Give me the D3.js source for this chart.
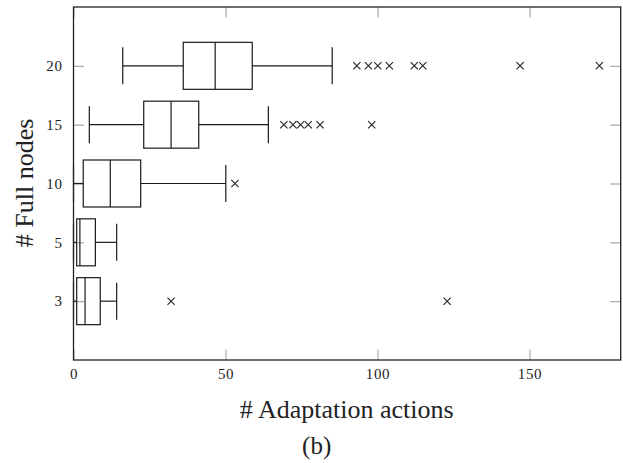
<!DOCTYPE html>
<html>
<head>
<meta charset="utf-8">
<script src="https://cdn.jsdelivr.net/npm/d3@7"></script>
<style>
  body { margin: 0; background: #fff; }
  svg text { font-family: "Liberation Serif", "DejaVu Serif", serif; fill: #222; }
</style>
</head>
<body>
<div id="container"></div>
<script>
// box plot values, one entry per category (bottom to top)
const categories = ["3", "5", "10", "15", "20"];
const whiskerLow = [0, 0, 0, 5.2, 16.2];
const q1 = [1.05, 1.05, 3.2, 23.1, 36.1];
const median = [3.8, 2.1, 12.1, 32.1, 46.6];
const q3 = [8.8, 7.2, 22.1, 41.2, 58.8];
const whiskerHigh = [14.2, 14.2, 50.1, 64.1, 85.1];
const outliers = [
    [32.1, 122.9],
    [],
    [53.1],
    [69.2, 72.2, 74.7, 77.2, 81.1, 98.1],
    [93.2, 97.0, 100.1, 103.9, 112.1, 114.9, 146.9, 173.0]
];
const xTicks = [0, 50, 100, 150];

// set dimensions
const W = 623, H = 463;
const margin = {top: 7, right: 2.3, bottom: 103, left: 73.5};
const width = W - margin.left - margin.right;
const height = H - margin.top - margin.bottom;

// scales
const x = d3.scaleLinear().domain([0, 180]).range([0, width]);
const y = d3.scalePoint().domain(categories).range([height, 0]).padding(1);

const svg = d3.select("#container")
    .append("svg")
        .attr("width", W)
        .attr("height", H)
    .append("g")
        .attr("transform", `translate(${margin.left}, ${margin.top})`);

const tickLen = 10.5;
const tickColor = "#a8a8a8";

// x axis (bottom) with inward ticks
const xAxis = svg.append("g")
    .attr("transform", `translate(0,${height})`)
    .call(d3.axisBottom(x).tickValues(xTicks).tickSizeInner(-tickLen).tickSizeOuter(0).tickPadding(8));
// top ticks, no labels
const xTop = svg.append("g")
    .call(d3.axisTop(x).tickValues(xTicks).tickSizeInner(-tickLen).tickSizeOuter(0).tickFormat(""));
// y axis (left)
const yAxis = svg.append("g")
    .call(d3.axisLeft(y).tickSizeInner(-tickLen).tickSizeOuter(0).tickPadding(11));
// right ticks
const yRight = svg.append("g")
    .attr("transform", `translate(${width},0)`)
    .call(d3.axisRight(y).tickSizeInner(-tickLen).tickSizeOuter(0).tickFormat(""));

[xAxis, xTop, yAxis, yRight].forEach(g => {
    g.select(".domain").remove();
    g.selectAll(".tick line").attr("stroke", tickColor).attr("stroke-width", 1.2);
    g.selectAll(".tick text")
        .attr("font-size", 15)
        .attr("letter-spacing", "0.6px")
        .attr("font-family", "\"Liberation Serif\", serif")
        .attr("fill", "#333");
});

// boxes
const boxHalf = 23.5;
const capHalf = 18.5;
const rows = categories.map((c, i) => ({
    cat: c, lo: whiskerLow[i], q1: q1[i], med: median[i], q3: q3[i], hi: whiskerHigh[i], out: outliers[i]
}));

const g = svg.selectAll(".box")
    .data(rows)
    .enter().append("g")
    .attr("class", "box")
    .attr("transform", d => `translate(0,${y(d.cat)})`);

const stroke = "#1a1a1a";
// whiskers
g.append("line")
    .attr("x1", d => x(d.lo)).attr("x2", d => x(d.q1))
    .attr("y1", 0).attr("y2", 0)
    .attr("stroke", stroke).attr("stroke-width", 1.2);
g.append("line")
    .attr("x1", d => x(d.q3)).attr("x2", d => x(d.hi))
    .attr("y1", 0).attr("y2", 0)
    .attr("stroke", stroke).attr("stroke-width", 1.2);
// caps
g.append("line")
    .attr("x1", d => x(d.lo)).attr("x2", d => x(d.lo))
    .attr("y1", -capHalf).attr("y2", capHalf)
    .attr("stroke", stroke).attr("stroke-width", 1.2);
g.append("line")
    .attr("x1", d => x(d.hi)).attr("x2", d => x(d.hi))
    .attr("y1", -capHalf).attr("y2", capHalf)
    .attr("stroke", stroke).attr("stroke-width", 1.2);
// box
g.append("rect")
    .attr("x", d => x(d.q1))
    .attr("width", d => x(d.q3) - x(d.q1))
    .attr("y", -boxHalf)
    .attr("height", 2 * boxHalf)
    .attr("fill", "none")
    .attr("stroke", stroke).attr("stroke-width", 1.2);
// median
g.append("line")
    .attr("x1", d => x(d.med)).attr("x2", d => x(d.med))
    .attr("y1", -boxHalf).attr("y2", boxHalf)
    .attr("stroke", stroke).attr("stroke-width", 1.2);

// outliers as crosses
const cs = 3.6;
g.selectAll(".out")
    .data(d => d.out)
    .enter().append("path")
    .attr("class", "out")
    .attr("d", v => `M${x(v) - cs},${-cs}L${x(v) + cs},${cs}M${x(v) - cs},${cs}L${x(v) + cs},${-cs}`)
    .attr("stroke", "#222")
    .attr("stroke-width", 1.1)
    .attr("fill", "none");

// frame
svg.append("rect")
    .attr("x", 0).attr("y", 0)
    .attr("width", width).attr("height", height)
    .attr("fill", "none")
    .attr("stroke", "#222")
    .attr("stroke-width", 1.3);

// labels
svg.append("text")
    .attr("x", 346.7 - margin.left)
    .attr("y", 418 - margin.top)
    .attr("text-anchor", "middle")
    .attr("font-size", 26)
    .text("# Adaptation actions");

svg.append("text")
    .attr("transform", `translate(${33 - margin.left},${183 - margin.top}) rotate(-90)`)
    .attr("text-anchor", "middle")
    .attr("font-size", 26)
    .text("# Full nodes");

svg.append("text")
    .attr("x", 316.7 - margin.left)
    .attr("y", 454 - margin.top)
    .attr("text-anchor", "middle")
    .attr("font-size", 25)
    .text("(b)");
</script>
</body>
</html>
